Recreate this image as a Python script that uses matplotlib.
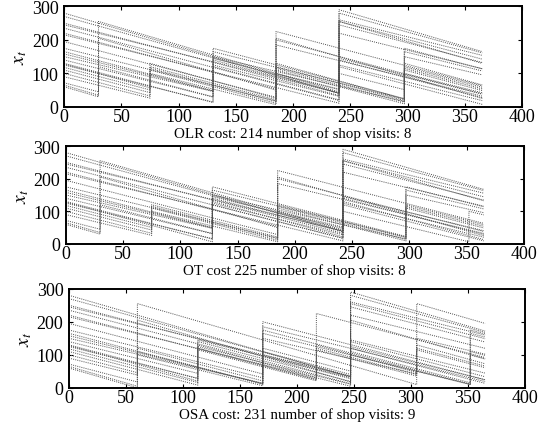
import numpy as np
import matplotlib.pyplot as plt

plt.rcParams['font.family'] = ['Liberation Serif', 'DejaVu Serif']
plt.rcParams['mathtext.fontset'] = 'stix'

t_end = 365

# one entry per component: remaining life at t=0, life after a replacement,
# and wear per day
x_start = [280, 270, 250, 245, 235, 220, 215, 195, 175, 165, 158, 150, 140,
           130, 128, 125, 118, 110, 100, 90, 72, 65, 60]
life = [290, 280, 255, 260, 245, 225, 220, 200, 185, 175, 165, 150, 145,
        140, 130, 125, 115, 120, 110, 100, 120, 255, 205]
wear = [1.0, 0.95, 0.9, 0.85, 0.9, 0.9, 0.85, 0.9, 0.85, 0.9, 0.85, 0.8, 0.85,
        0.9, 0.95, 0.85, 0.9, 0.9, 0.9, 0.85, 0.9, 1.0, 1.0]

visits_olr = [30, 75, 130, 185, 240, 297]
visits_ot = [30, 75, 128, 185, 242, 297, 352]
visits_osa = [60, 113, 170, 217, 247, 305, 352]

titles = ['OLR cost: 214 number of shop visits: 8',
          'OT cost 225 number of shop visits: 8',
          'OSA cost: 231 number of shop visits: 9']


def paths(visits):
    out = []
    for x0, L, r in zip(x_start, life, wear):
        ts, xs = [0], [x0]
        cur, last = x0, 0
        for k, tv in enumerate(visits):
            v = cur - r * (tv - last)
            nxt = visits[k + 1] if k + 1 < len(visits) else t_end
            # replace a part that would run out before the next visit
            if v - r * (nxt - tv) < 5:
                ts += [tv, tv]
                xs += [v, L]
                cur = L
            else:
                ts.append(tv)
                xs.append(v)
                cur = v
            last = tv
        ts.append(t_end)
        xs.append(cur - r * (t_end - last))
        out.append((ts, xs))
    return out


fig = plt.figure(figsize=(5.39, 4.35), dpi=100)
boxes = [[0.119, 0.752, 0.850, 0.231],
         [0.122, 0.437, 0.850, 0.225],
         [0.128, 0.106, 0.846, 0.228]]

for box, visits, title in zip(boxes, [visits_olr, visits_ot, visits_osa], titles):
    ax = fig.add_axes(box)
    for ts, xs in paths(visits):
        ax.plot(ts, xs, color='0.3', lw=0.7, ls=(0, (1, 1.2)))
    ax.set_xlim(0, 400)
    ax.set_ylim(0, 300)
    ax.set_xticks(range(0, 401, 50))
    ax.set_yticks([0, 100, 200, 300])
    ax.tick_params(direction='in', top=True, right=True, length=3,
                   labelsize=13)
    ax.tick_params(axis='x', pad=0.5)
    ax.tick_params(axis='y', pad=4)
    for s in ax.spines.values():
        s.set_linewidth(1.4)
    ax.set_ylabel(r'$x_t$', fontsize=14, labelpad=2)
    ax.set_xlabel(title, fontsize=10.8, labelpad=1)

fig.savefig('out.png', dpi=100)
